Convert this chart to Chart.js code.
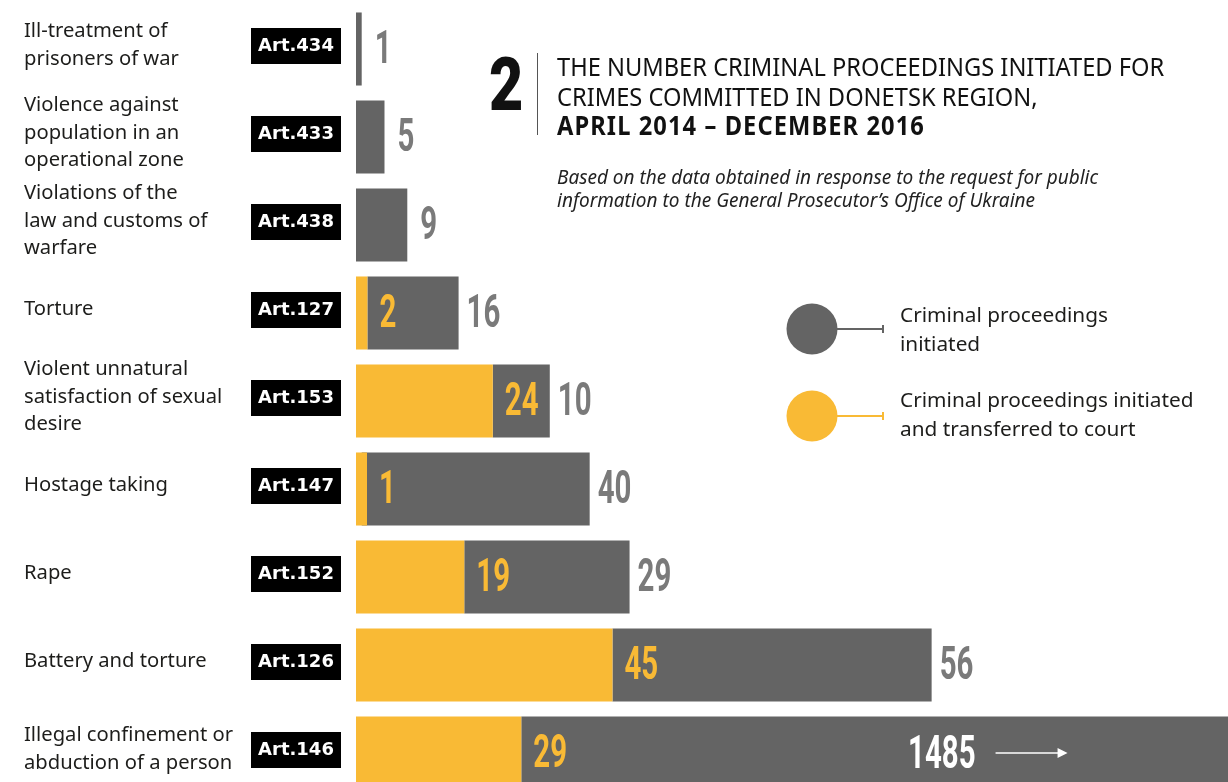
<!DOCTYPE html>
<html>
<head>
<meta charset="utf-8">
<script src="https://cdn.jsdelivr.net/npm/chart.js@4.4.0/dist/chart.umd.min.js"></script>
<style>
  html, body { margin: 0; padding: 0; background: #fff; overflow: hidden; }
  #wrap { position: relative; width: 1228px; height: 782px; overflow: hidden; }
  #chart { position: absolute; left: 0; top: 0; }
  .big2 { position: absolute; left: 489px; top: 48px; font: 900 74px/74px Roboto; color: #111;
          transform: scaleX(0.8); transform-origin: left top; }
  .vline { position: absolute; left: 537px; top: 53px; width: 1px; height: 82px; background: #555; }
  .title { position: absolute; left: 557px; top: 52px; font: 26px/29.5px "Noto Sans"; color: #111;
           transform: scaleX(0.91); transform-origin: left top; white-space: nowrap; }
  .title b { font-weight: bold; letter-spacing: 1.2px; }
  .sub { position: absolute; left: 557px; top: 166px; font: italic 19px/23px "Noto Sans"; color: #222; white-space: nowrap; }
  .leg { position: absolute; left: 900px; font: 20.8px/29px "Noto Sans"; color: #1d1d1b; white-space: nowrap; }
</style>
</head>
<body>
<div id="wrap">
  <canvas id="chart" width="1228" height="800"></canvas>
  <div class="big2">2</div>
  <div class="vline"></div>
  <div class="title">THE NUMBER CRIMINAL PROCEEDINGS INITIATED FOR<br>CRIMES COMMITTED IN DONETSK REGION,<br><b>APRIL 2014 – DECEMBER 2016</b></div>
  <div class="sub">Based on the data obtained in response to the request for public<br>information to the General Prosecutor’s Office of Ukraine</div>
  <div class="leg" id="leg0" style="top:300px"></div>
  <div class="leg" id="leg1" style="top:385px"></div>
</div>
<script>
// data
var categories = [
  ["Ill-treatment of", "prisoners of war"],
  ["Violence against", "population in an", "operational zone"],
  ["Violations of the", "law and customs of", "warfare"],
  ["Torture"],
  ["Violent unnatural", "satisfaction of sexual", "desire"],
  ["Hostage taking"],
  ["Rape"],
  ["Battery and torture"],
  ["Illegal confinement or", "abduction of a person"]
];
var articles = ["Art.434", "Art.433", "Art.438", "Art.127", "Art.153", "Art.147", "Art.152", "Art.126", "Art.146"];
var transferred = [null, null, null, 2, 24, 1, 19, 45, 29];
var initiated = [1, 5, 9, 16, 10, 40, 29, 56, 1485];
var xMax = 153;

var legendLabels = ["Criminal proceedings<br>initiated", "Criminal proceedings initiated<br>and transferred to court"];
var yellow = "#F9BA35";
var grey = "#646464";
var greyText = "#7a7a7a";

document.getElementById("leg0").innerHTML = legendLabels[0];
document.getElementById("leg1").innerHTML = legendLabels[1];

// grey part sits after the yellow part: floating [start, end]
var initiatedRanges = [];
for(var i = 0; i < initiated.length; i++){
  var s = transferred[i] || 0;
  initiatedRanges.push([s, s + initiated[i]]);
}

// tall condensed digits
function drawNum(ctx, text, x, y, color){
  ctx.save();
  ctx.font = 'bold 46px Roboto';
  var w = ctx.measureText(text).width * 0.64;
  ctx.translate(x, y);
  ctx.scale(0.64, 1);
  ctx.textAlign = 'left';
  ctx.textBaseline = 'alphabetic';
  ctx.fillStyle = color;
  ctx.fillText(text, 0, 0);
  ctx.restore();
  return w;
}

var labelPlugin = {
  id: 'labelPlugin',
  afterDatasetsDraw: function(chart){
    var ctx = chart.ctx;
    var yScale = chart.scales.y;
    var area = chart.chartArea;
    var yMeta = chart.getDatasetMeta(0);
    var gMeta = chart.getDatasetMeta(1);
    ctx.save();
    for(var i = 0; i < categories.length; i++){
      var cy = yScale.getPixelForValue(i);
      var lines = categories[i];

      // category text
      ctx.font = '20.2px "Noto Sans"';
      ctx.fillStyle = '#1d1d1b';
      ctx.textAlign = 'left';
      ctx.textBaseline = 'middle';
      var lh = 27.5;
      var top = cy - 4 - (lines.length - 1) * lh / 2;
      for(var k = 0; k < lines.length; k++){
        ctx.fillText(lines[k], 24, top + k * lh);
      }

      // article tag
      ctx.fillStyle = '#000';
      ctx.fillRect(251, cy - 21, 90, 36);
      ctx.fillStyle = '#fff';
      ctx.font = 'bold 18px "DejaVu Sans"';
      ctx.textAlign = 'center';
      ctx.fillText(articles[i], 296, cy - 3);

      // value labels
      var base = cy + 14;
      var gBar = gMeta.data[i];
      var gEnd = Math.max(gBar.x, gBar.base);
      if(transferred[i] != null){
        var yBar = yMeta.data[i];
        drawNum(ctx, String(transferred[i]), Math.max(yBar.x, yBar.base) + 12, base, yellow);
      }
      if(gEnd > area.right){
        // bar runs off the chart: label inside with an arrow
        var tx = area.right - 320;
        var w = drawNum(ctx, String(initiated[i]), tx, base + 1, '#fff');
        var ax = tx + w + 20;
        var ay = cy;
        ctx.strokeStyle = '#fff';
        ctx.lineWidth = 1.5;
        ctx.beginPath();
        ctx.moveTo(ax, ay);
        ctx.lineTo(ax + 64, ay);
        ctx.stroke();
        ctx.fillStyle = '#fff';
        ctx.beginPath();
        ctx.moveTo(ax + 72, ay);
        ctx.lineTo(ax + 62, ay - 5);
        ctx.lineTo(ax + 62, ay + 5);
        ctx.closePath();
        ctx.fill();
      } else {
        var gap = transferred[i] != null ? 8 : 13;
        drawNum(ctx, String(initiated[i]), gEnd + gap, base, greyText);
      }
    }

    // legend markers
    var marks = [[grey, 329], [yellow, 416]];
    for(var m = 0; m < marks.length; m++){
      var c = marks[m][0], my = marks[m][1];
      ctx.fillStyle = c;
      ctx.beginPath();
      ctx.arc(812, my, 25.5, 0, Math.PI * 2);
      ctx.fill();
      ctx.strokeStyle = c;
      ctx.lineWidth = 2;
      ctx.beginPath();
      ctx.moveTo(836, my);
      ctx.lineTo(883, my);
      ctx.moveTo(883, my - 4);
      ctx.lineTo(883, my + 4);
      ctx.stroke();
    }
    ctx.restore();
  }
};

var ctx = document.getElementById("chart");
var graph = new Chart(ctx, {
  type: "bar",
  data: {
    labels: articles,
    datasets: [{
      label: "Criminal proceedings initiated and transferred to court",
      data: transferred,
      backgroundColor: yellow,
      minBarLength: 11,
      grouped: false,
      categoryPercentage: 1,
      barPercentage: 0.83
    }, {
      label: "Criminal proceedings initiated",
      data: initiatedRanges,
      backgroundColor: grey,
      grouped: false,
      categoryPercentage: 1,
      barPercentage: 0.83
    }]
  },
  options: {
    indexAxis: 'y',
    responsive: false,
    animation: false,
    devicePixelRatio: 1,
    layout: { padding: { left: 356, right: 0, top: 5, bottom: 3 } },
    scales: {
      x: { min: 0, max: xMax, display: false },
      y: { display: false }
    },
    plugins: {
      legend: { display: false },
      tooltip: { enabled: false }
    }
  },
  plugins: [labelPlugin]
});
</script>
</body>
</html>
